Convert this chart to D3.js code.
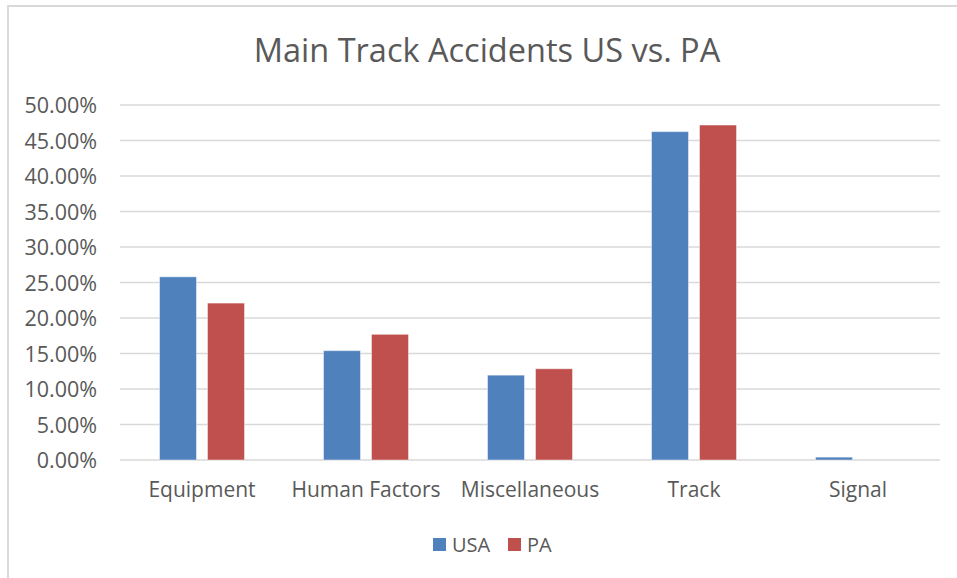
<!DOCTYPE html>
<html>
<head>
<meta charset="utf-8">
<script src="https://cdn.jsdelivr.net/npm/d3@7"></script>
<style>
  body { margin: 0; background: #fff; }
  text { font-family: "Open Sans", Lato, sans-serif; fill: #595959; }
</style>
</head>
<body>
<div id="viz"></div>
<script>
// data
const categories = ['Equipment', 'Human Factors', 'Miscellaneous', 'Track', 'Signal'];
const seriesNames = ['USA', 'PA'];
const usaValues = [0.258, 0.154, 0.1195, 0.4625, 0.004];
const paValues = [0.221, 0.177, 0.1285, 0.4718, 0];
const yTicks = [0, 0.05, 0.1, 0.15, 0.2, 0.25, 0.3, 0.35, 0.4, 0.45, 0.5];
const colors = ['#4f81bd', '#c0504d'];

const width = 957;
const height = 578;
const margin = {left: 120, right: 17, top: 105, bottom: 118};

const svg = d3.select('#viz').append('svg')
  .attr('width', width)
  .attr('height', height);

// chart frame (only top and left edges show in the reference)
svg.append('path')
  .attr('d', `M8,${height} L8,6 L${width},6`)
  .style('fill', 'none')
  .style('stroke', '#d9d9d9')
  .style('stroke-width', 2);

const x0 = d3.scaleBand()
  .domain(categories)
  .range([margin.left, width - margin.right]);

const x1 = d3.scaleBand()
  .domain(seriesNames)
  .range([0, 85])
  .paddingInner(0.229);

const y = d3.scaleLinear()
  .domain([0, 0.5])
  .range([height - margin.bottom, margin.top]);

// gridlines
svg.append('g')
  .selectAll('line')
  .data(yTicks)
  .join('line')
  .attr('x1', margin.left)
  .attr('x2', width - margin.right)
  .attr('y1', d => y(d))
  .attr('y2', d => y(d))
  .style('stroke', '#d9d9d9')
  .style('stroke-width', 1.3);

// y axis labels
const yAxis = d3.axisLeft(y)
  .tickValues(yTicks)
  .tickFormat(d3.format('.2%'))
  .tickSize(0)
  .tickPadding(23);

svg.append('g')
  .attr('transform', `translate(${margin.left},0)`)
  .call(yAxis)
  .call(g => g.select('.domain').remove())
  .selectAll('text')
  .style('font-size', '21.5px')
  .attr('dy', '0.35em');

// x axis labels
const xAxis = d3.axisBottom(x0).tickSize(0).tickPadding(22);
svg.append('g')
  .attr('transform', `translate(0,${height - margin.bottom})`)
  .call(xAxis)
  .call(g => g.select('.domain').remove())
  .selectAll('text')
  .style('font-size', '21px');

// bars
const rows = categories.map((c, i) => ({
  category: c,
  values: [usaValues[i], paValues[i]],
}));

const offset = (x0.bandwidth() - 85) / 2;

svg.append('g')
  .selectAll('g')
  .data(rows)
  .join('g')
  .attr('transform', d => `translate(${x0(d.category) + offset},0)`)
  .selectAll('rect')
  .data(d => d.values.map((v, j) => ({series: seriesNames[j], value: v, j})))
  .join('rect')
  .filter(d => d.value > 0)
  .attr('x', d => x1(d.series))
  .attr('width', x1.bandwidth())
  .attr('y', d => y(d.value))
  .attr('height', d => y(0) - y(d.value))
  .style('fill', d => colors[d.j])
  .style('stroke', '#ffffff')
  .style('stroke-opacity', 0.45)
  .style('stroke-width', 1);

// title
svg.append('text')
  .attr('x', 487)
  .attr('y', 62)
  .attr('text-anchor', 'middle')
  .style('font-size', '32.5px')
  .text('Main Track Accidents US vs. PA');

// legend
const legend = svg.append('g')
  .selectAll('g')
  .data(seriesNames)
  .join('g')
  .attr('transform', (d, i) => `translate(${[433, 508][i]},538)`);

legend.append('rect')
  .attr('width', 13)
  .attr('height', 13)
  .style('fill', (d, i) => colors[i]);

legend.append('text')
  .attr('x', 19)
  .attr('y', 13.5)
  .style('font-size', '20px')
  .text(d => d);
</script>
</body>
</html>
